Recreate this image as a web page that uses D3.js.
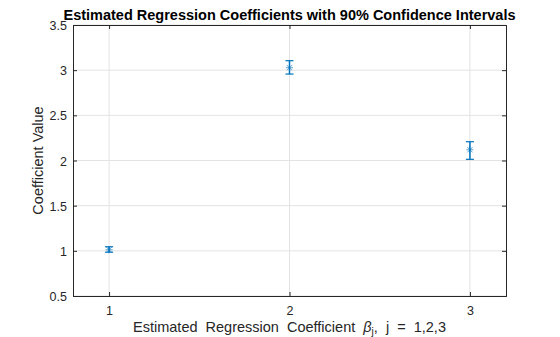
<!DOCTYPE html>
<html><head><meta charset="utf-8">
<script src="https://cdn.jsdelivr.net/npm/d3@7"></script>
<style>body{margin:0;background:#fff;} text{font-family:"Liberation Sans",Arial,Helvetica,sans-serif;}</style>
</head><body>
<svg id="c" width="560" height="337"></svg>
<script>
const categories = [1, 2, 3];
const estimates = [1.012, 3.027, 2.119];
const lowerCI = [0.985, 2.957, 2.013];
const upperCI = [1.045, 3.105, 2.208];
const yTicks = [0.5, 1, 1.5, 2, 2.5, 3, 3.5];
const xTicks = [1, 2, 3];

const svg = d3.select("#c");
const L = 73, R = 506, T = 25, B = 296;
const x = d3.scaleLinear().domain([0.8, 3.2]).range([L, R]);
const y = d3.scaleLinear().domain([0.5, 3.5]).range([B, T]);
const blue = "#0072BD";

// grid
svg.append("g").selectAll("line").data(yTicks).join("line")
  .attr("x1", L).attr("x2", R).attr("y1", d => y(d)).attr("y2", d => y(d))
  .attr("stroke", "#e3e3e3").attr("stroke-width", 1);
svg.append("g").selectAll("line").data(xTicks).join("line")
  .attr("y1", T).attr("y2", B).attr("x1", d => x(d)).attr("x2", d => x(d))
  .attr("stroke", "#e3e3e3").attr("stroke-width", 1);

// axes
const ax = svg.append("g").attr("transform", `translate(0,${B})`)
  .call(d3.axisBottom(x).tickValues(xTicks).tickSize(-4).tickPadding(10).tickFormat(d3.format("d")));
const ay = svg.append("g").attr("transform", `translate(${L},0)`)
  .call(d3.axisLeft(y).tickValues(yTicks).tickSize(-4).tickPadding(6).tickFormat(d => d));
const axT = svg.append("g").attr("transform", `translate(0,${T})`)
  .call(d3.axisTop(x).tickValues(xTicks).tickSize(-4).tickFormat(""));
const ayR = svg.append("g").attr("transform", `translate(${R},0)`)
  .call(d3.axisRight(y).tickValues(yTicks).tickSize(-4).tickFormat(""));
[ax, ay, axT, ayR].forEach(g => {
  g.select(".domain").attr("stroke", "#262626").attr("stroke-width", 1);
  g.selectAll(".tick line").attr("stroke", "#262626");
  g.selectAll(".tick text").attr("fill", "#262626").style("font-size", "12.5px");
});
ay.selectAll(".tick text").attr("dy", "0.36em");

// error bars
const eb = svg.append("g");
const cap = 4;
categories.forEach((c, i) => {
  const cx = x(c);
  eb.append("line").attr("x1", cx).attr("x2", cx).attr("y1", y(lowerCI[i])).attr("y2", y(upperCI[i]))
    .attr("stroke", blue).attr("stroke-width", 1.5);
  [lowerCI[i], upperCI[i]].forEach(v => {
    eb.append("line").attr("x1", cx - cap).attr("x2", cx + cap).attr("y1", y(v)).attr("y2", y(v))
      .attr("stroke", blue).attr("stroke-width", 1.2);
  });
  // asterisk marker
  const cy = y(estimates[i]), r = 3.5;
  const m = eb.append("g").attr("stroke", blue).attr("stroke-width", 0.8).attr("opacity", 0.8);
  m.append("line").attr("x1", cx - r).attr("x2", cx + r).attr("y1", cy).attr("y2", cy);
  m.append("line").attr("x1", cx).attr("x2", cx).attr("y1", cy - r).attr("y2", cy + r);
  const d = r * 0.75;
  m.append("line").attr("x1", cx - d).attr("x2", cx + d).attr("y1", cy - d).attr("y2", cy + d);
  m.append("line").attr("x1", cx - d).attr("x2", cx + d).attr("y1", cy + d).attr("y2", cy - d);
});

// title
svg.append("text").attr("x", (L + R) / 2).attr("y", 20).attr("text-anchor", "middle")
  .style("font-size", "14.5px").style("font-weight", "bold").attr("fill", "#000")
  .text("Estimated Regression Coefficients with 90% Confidence Intervals");

// x label
const xl = svg.append("text").attr("x", (L + R) / 2).attr("y", 332).attr("text-anchor", "middle")
  .style("font-size", "14.5px").attr("fill", "#262626").attr("xml:space", "preserve");
xl.append("tspan").text("Estimated  Regression  Coefficient  ");
xl.append("tspan").style("font-style", "italic").text("β");
xl.append("tspan").attr("dy", 3).style("font-size", "10px").text("j");
xl.append("tspan").attr("dy", -3).text(",  j  =  1,2,3");

// y label
svg.append("text").attr("transform", `translate(43,${(T + B) / 2}) rotate(-90)`)
  .attr("text-anchor", "middle").style("font-size", "14.5px").attr("fill", "#262626")
  .text("Coefficient Value");
</script>
</body></html>
